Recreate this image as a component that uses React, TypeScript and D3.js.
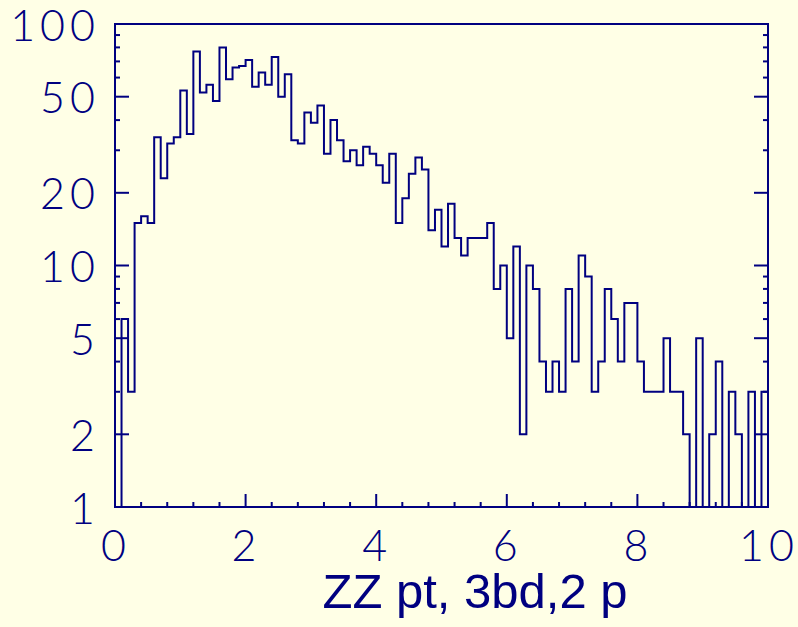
import React from "react";
import * as d3 from "d3";

const binEdgesStart = 0;
const binWidth = 0.1;
const counts = [
  0, 6, 3, 15, 16, 15, 34, 23, 32, 34,
  53, 35, 77, 52, 56, 48, 80, 59, 66, 67,
  71, 55, 63, 56, 73, 50, 62, 33, 32, 43,
  39, 46, 29, 40, 33, 27, 30, 26, 31, 29,
  26, 22, 29, 15, 19, 24, 28, 25, 14, 17,
  12, 18, 13, 11, 13, 13, 13, 15, 8, 10,
  5, 12, 2, 10, 8, 4, 3, 4, 3, 8,
  4, 11, 9, 3, 4, 8, 6, 4, 7, 7,
  4, 3, 3, 3, 5, 3, 3, 2, 0, 5,
  0, 2, 4, 0, 3, 2, 0, 3, 0, 3,
];
const xMajorTicks = [0, 2, 4, 6, 8, 10];
const xMinorTicks = [0.4, 0.8, 1.2, 1.6, 2.4, 2.8, 3.2, 3.6, 4.4, 4.8, 5.2, 5.6, 6.4, 6.8, 7.2, 7.6, 8.4, 8.8, 9.2, 9.6];
const yMajorTicks = [1, 2, 5, 10, 20, 50, 100];
const yMinorTicks = [3, 4, 6, 7, 8, 9, 30, 40, 60, 70, 80, 90];
const xTitle = "ZZ pt, 3bd,2 p";

const W = 798;
const H = 627;
const L = 115;
const R = 768;
const T = 24;
const B = 507;
const NAVY = "#000080";
const BG = "#ffffe6";

export default function App() {
  const x = d3.scaleLinear().domain([0, 10]).range([L, R]);
  const y = d3.scaleLog().domain([1, 100]).range([B, T]);

  const pts: [number, number][] = [[0, 1]];
  counts.forEach((c, i) => {
    const v = Math.max(1, c);
    const x0 = binEdgesStart + i * binWidth;
    pts.push([x0, v]);
    pts.push([x0 + binWidth, v]);
  });
  pts.push([binEdgesStart + counts.length * binWidth, 1]);
  const line = d3
    .line<[number, number]>()
    .x((d) => x(d[0]))
    .y((d) => y(d[1]));

  const tickFont = {
    fontFamily: "Lato, 'DejaVu Sans', sans-serif",
    fontWeight: 300,
    fontSize: 43,
    letterSpacing: 5,
  } as const;

  return (
    <svg
      width={W}
      height={H}
      style={{ position: "fixed", left: 0, top: 0, display: "block" }}
    >
      <rect x={0} y={0} width={W} height={H} fill={BG} />
      <path d={line(pts) || ""} fill="none" stroke={NAVY} strokeWidth={2} strokeLinejoin="miter" />
      <rect x={L} y={T} width={R - L} height={B - T} fill="none" stroke={NAVY} strokeWidth={2} />
      {yMajorTicks.map((t) => (
        <g key={"ym" + t}>
          <line x1={L} x2={L + 14} y1={y(t)} y2={y(t)} stroke={NAVY} strokeWidth={2} />
          <line x1={R} x2={R - 14} y1={y(t)} y2={y(t)} stroke={NAVY} strokeWidth={2} />
          <text
            x={100}
            y={y(t)}
            textAnchor="end"
            dominantBaseline="central"
            fill={NAVY}
            {...tickFont}
          >
            {t}
          </text>
        </g>
      ))}
      {yMinorTicks.map((t) => (
        <g key={"yn" + t}>
          <line x1={L} x2={L + 5} y1={y(t)} y2={y(t)} stroke={NAVY} strokeWidth={2} />
          <line x1={R} x2={R - 5} y1={y(t)} y2={y(t)} stroke={NAVY} strokeWidth={2} />
        </g>
      ))}
      {xMajorTicks.map((t) => (
        <g key={"xm" + t}>
          <line x1={x(t)} x2={x(t)} y1={B} y2={B - 13} stroke={NAVY} strokeWidth={2} />
          <text
            x={x(t) + 1}
            y={544}
            textAnchor="middle"
            dominantBaseline="central"
            fill={NAVY}
            {...tickFont}
          >
            {t}
          </text>
        </g>
      ))}
      {xMinorTicks.map((t) => (
        <line key={"xn" + t} x1={x(t)} x2={x(t)} y1={B} y2={B - 5} stroke={NAVY} strokeWidth={2} />
      ))}
      <text
        x={475}
        y={608}
        textAnchor="middle"
        fill={NAVY}
        fontFamily="'Liberation Sans', Arial, sans-serif"
        fontSize={49}
      >
        {xTitle}
      </text>
    </svg>
  );
}
